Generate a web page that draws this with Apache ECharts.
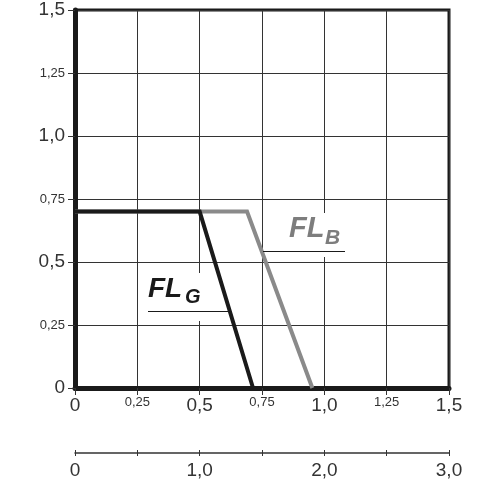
<!DOCTYPE html>
<html>
<head>
<meta charset="utf-8">
<script src="https://cdn.jsdelivr.net/npm/echarts@6/dist/echarts.min.js"></script>
<style>html,body{margin:0;padding:0;background:#fff}#c{width:500px;height:480px}</style>
</head>
<body>
<div id="c"></div>
<script>
// --- data ---
const xTickValues = [0, 0.25, 0.5, 0.75, 1.0, 1.25, 1.5];
const xTickLabels = ['0', '0,25', '0,5', '0,75', '1,0', '1,25', '1,5'];
const yTickValues = [0, 0.25, 0.5, 0.75, 1.0, 1.25, 1.5];
const yTickLabels = ['0', '0,25', '0,5', '0,75', '1,0', '1,25', '1,5'];
const x2TickValues = [0, 1, 2, 3];
const x2TickLabels = ['0', '1,0', '2,0', '3,0'];
const flgX = [0, 0.5, 0.714];
const flgY = [0.7, 0.7, 0];
const flbX = [0, 0.69, 0.952];
const flbY = [0.7, 0.7, 0];
const seriesNames = ['FL', 'G', 'B'];

const FONT = '"Liberation Sans", Arial, sans-serif';
const TXT = '#333';
function fmt(values, labels) {
  return function (v) {
    let i = -1;
    for (let k = 0; k < values.length; k++) if (Math.abs(values[k] - v) < 1e-9) i = k;
    if (i < 0) return '';
    const big = Math.abs(v * 2 - Math.round(v * 2)) < 1e-9;
    return big ? '{b|' + labels[i] + '}' : '{s|' + labels[i] + '}';
  };
}
const rich = {
  b: { fontSize: 19, fontFamily: FONT, color: TXT },
  s: { fontSize: 13, fontFamily: FONT, color: TXT }
};

const chart = echarts.init(document.getElementById('c'), null, { renderer: 'canvas' });
chart.setOption({
  backgroundColor: '#fff',
  animation: false,
  grid: [
    { left: 75, right: 51, top: 10, bottom: 92, show: true, borderColor: '#1a1a1a', borderWidth: 3, backgroundColor: 'transparent' },
    { left: 75, right: 51, top: 450, height: 3, show: false }
  ],
  xAxis: [
    {
      type: 'value', gridIndex: 0, min: 0, max: 1.5, interval: 0.25, position: 'bottom',
      axisLine: { show: true, onZero: false, lineStyle: { color: '#1a1a1a', width: 5 } },
      axisTick: { show: true, length: 7, lineStyle: { color: TXT, width: 1 } },
      axisLabel: { margin: 8, formatter: fmt(xTickValues, xTickLabels), rich: rich },
      splitLine: { show: true, lineStyle: { color: '#333', width: 1 } }
    },
    {
      type: 'value', gridIndex: 1, min: 0, max: 3, interval: 0.5, position: 'bottom',
      axisLine: { show: true, onZero: false, lineStyle: { color: TXT, width: 1.5 } },
      axisTick: { show: true, length: 3, lineStyle: { color: TXT, width: 1 } },
      axisLabel: { margin: 8, formatter: function (v) {
        const i = x2TickValues.indexOf(v);
        return i < 0 ? '' : '{b|' + x2TickLabels[i] + '}';
      }, rich: rich },
      splitLine: { show: true, lineStyle: { color: TXT, width: 1 } }
    }
  ],
  yAxis: [
    {
      type: 'value', gridIndex: 0, min: 0, max: 1.5, interval: 0.25,
      axisLine: { show: true, onZero: false, lineStyle: { color: '#1a1a1a', width: 5 } },
      axisTick: { show: true, length: 7, lineStyle: { color: TXT, width: 1 } },
      axisLabel: { margin: 10, formatter: fmt(yTickValues, yTickLabels), rich: rich },
      splitLine: { show: true, lineStyle: { color: '#333', width: 1 } }
    },
    {
      type: 'value', gridIndex: 1, min: 0, max: 1, show: false
    }
  ],
  series: [
    {
      name: seriesNames[0] + seriesNames[2], type: 'line', xAxisIndex: 0, yAxisIndex: 0, symbol: 'none', z: 3,
      lineStyle: { color: '#8a8a8a', width: 4, join: 'miter' },
      data: flbX.map((x, i) => [x, flbY[i]])
    },
    {
      name: seriesNames[0] + seriesNames[1], type: 'line', xAxisIndex: 0, yAxisIndex: 0, symbol: 'none', z: 4,
      lineStyle: { color: '#1a1a1a', width: 4, join: 'miter' },
      data: flgX.map((x, i) => [x, flgY[i]])
    }
  ],
  graphic: [
    { type: 'rect', z: 1, shape: { x: 145, y: 273, width: 83, height: 48 }, style: { fill: '#fff' } },
    { type: 'rect', z: 1, shape: { x: 265, y: 213, width: 83, height: 44 }, style: { fill: '#fff' } },
    { type: 'line', z: 5, shape: { x1: 148, y1: 311.5, x2: 229, y2: 311.5 }, style: { stroke: '#1a1a1a', lineWidth: 1 } },
    { type: 'line', z: 5, shape: { x1: 263, y1: 251.5, x2: 345, y2: 251.5 }, style: { stroke: '#1a1a1a', lineWidth: 1 } },
    { type: 'text', z: 5, x: 148, y: 289, style: { text: seriesNames[0], font: 'italic bold 28px ' + FONT, fill: '#1a1a1a', verticalAlign: 'middle', align: 'left' } },
    { type: 'text', z: 5, x: 185, y: 297, style: { text: seriesNames[1], font: 'italic bold 20px ' + FONT, fill: '#1a1a1a', verticalAlign: 'middle', align: 'left' } },
    { type: 'text', z: 5, x: 289, y: 229, style: { text: seriesNames[0], font: 'italic bold 29px ' + FONT, fill: '#7d7d7d', verticalAlign: 'middle', align: 'left' } },
    { type: 'text', z: 5, x: 325, y: 238, style: { text: seriesNames[2], font: 'italic bold 21px ' + FONT, fill: '#7d7d7d', verticalAlign: 'middle', align: 'left' } }
  ]
});
</script>
</body>
</html>
